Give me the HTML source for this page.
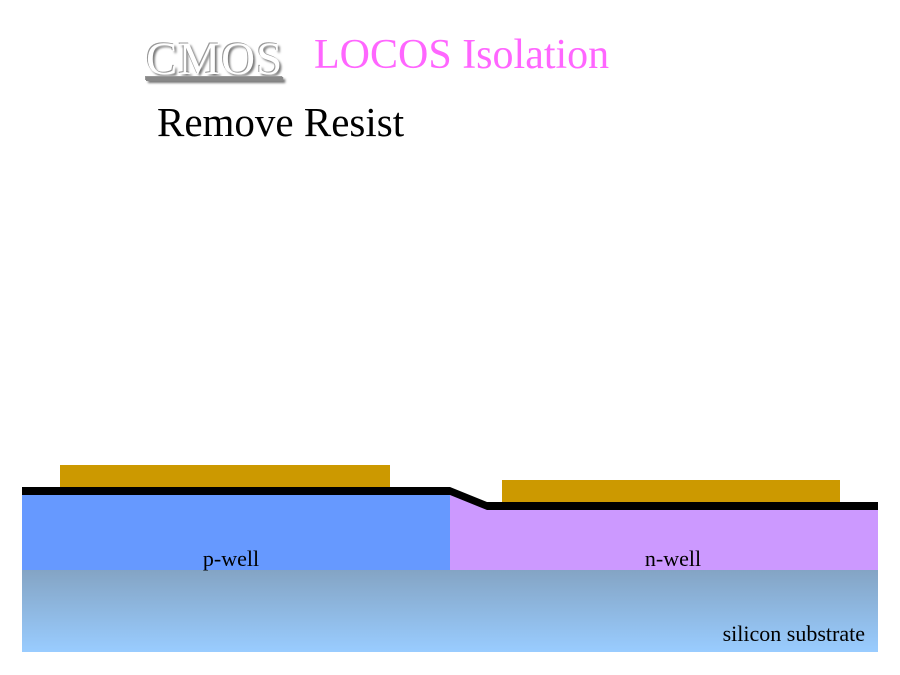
<!DOCTYPE html>
<html><head><style>
body{margin:0;width:900px;height:675px;background:#fff;position:relative;overflow:hidden;font-family:"Liberation Serif",serif}
.t{position:absolute;white-space:nowrap}
</style></head><body>
<div class="t" style="left:146px;top:32px;font-size:47px;color:#fff;text-shadow:2px 2px 2px #777,-1px -1px 0 #999;text-decoration:underline;text-decoration-color:#888;letter-spacing:1px">CMOS</div>
<div class="t" style="left:314px;top:31px;font-size:42px;color:#ff66ff">LOCOS Isolation</div>
<div class="t" style="left:157px;top:98px;font-size:41px;color:#000">Remove Resist</div>
<svg width="900" height="675" style="position:absolute;left:0;top:0">
<defs><linearGradient id="g" x1="0" y1="0" x2="0" y2="1"><stop offset="0" stop-color="#84a4c4"/><stop offset="1" stop-color="#99ccff"/></linearGradient></defs>
<rect x="22" y="570" width="856" height="82" fill="url(#g)"/>
<rect x="22" y="494" width="428" height="76" fill="#6699ff"/>
<polygon points="450,494 487,507 878,507 878,570 450,570" fill="#cc99ff"/>
<rect x="60" y="465" width="330" height="23" fill="#cc9900"/>
<rect x="502" y="480" width="338" height="23" fill="#cc9900"/>
<polygon points="22,487 450,487 487,502 878,502 878,510 487,510 450,495 22,495" fill="#000"/>
<text x="231" y="566" font-size="22" text-anchor="middle" font-family="Liberation Serif">p-well</text>
<text x="673" y="566" font-size="22" text-anchor="middle" font-family="Liberation Serif">n-well</text>
<text x="865" y="641" font-size="22" text-anchor="end" font-family="Liberation Serif">silicon substrate</text>
</svg>
</body></html>
